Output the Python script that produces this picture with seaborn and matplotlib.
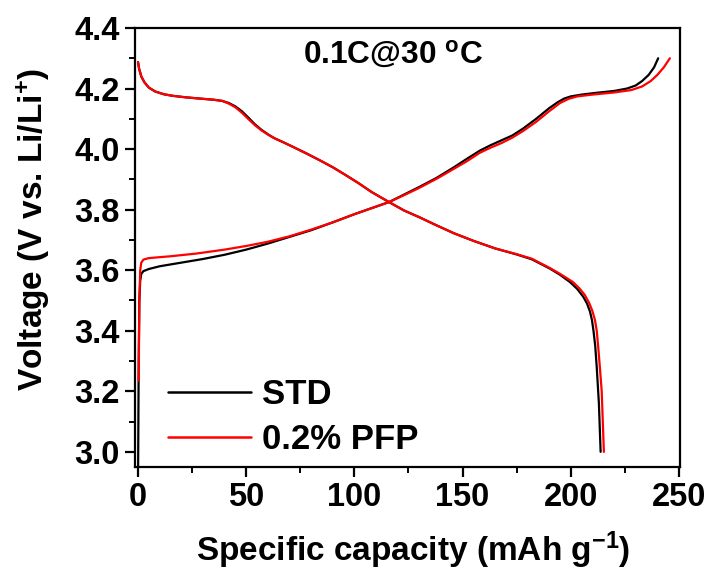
import numpy as np
import pandas as pd
import matplotlib
matplotlib.use("Agg")
import matplotlib.pyplot as plt
import seaborn as sns
from matplotlib.ticker import MultipleLocator, FormatStrFormatter

# ---- data ----
std_chg_x = [0, 0.3, 0.6, 1.0, 1.5, 2.5, 5, 10, 20, 30, 40, 50, 60, 70, 80, 90, 100, 108, 116, 123, 130, 138, 146, 152, 158,
             163, 168, 173, 178, 184, 190, 194, 197, 200, 205, 212, 220, 226, 230, 233, 236, 238.5, 240.4]
std_chg_y = [2.90, 3.30, 3.50, 3.565, 3.588, 3.597, 3.604, 3.613, 3.625, 3.637, 3.651, 3.668, 3.688, 3.71, 3.732, 3.758, 3.785, 3.805, 3.825, 3.85, 3.875, 3.905, 3.94, 3.968, 3.995,
             4.013, 4.029, 4.045, 4.068, 4.10, 4.135, 4.155, 4.167, 4.174, 4.18, 4.186, 4.192, 4.20, 4.21, 4.225, 4.245, 4.27, 4.30]

pfp_chg_x = [0.3, 0.6, 1.0, 1.5, 2.5, 5, 15, 27, 40, 50, 60, 70, 80, 90, 100, 108, 116, 123, 130, 138, 146, 152, 158,
             163, 168, 173, 178, 184, 190, 195, 199, 203, 210, 220, 228, 233, 237, 240, 243, 245.8]
pfp_chg_y = [3.235, 3.50, 3.60, 3.625, 3.635, 3.64, 3.646, 3.655, 3.668, 3.68, 3.694, 3.712, 3.734, 3.758, 3.785, 3.805, 3.825, 3.848, 3.872, 3.902, 3.935, 3.96, 3.988,
             4.005, 4.02, 4.038, 4.06, 4.09, 4.125, 4.152, 4.166, 4.174, 4.18, 4.187, 4.195, 4.207, 4.225, 4.245, 4.27, 4.30]

std_dis_x = [0, 0.5, 1.5, 3, 5, 8, 12, 16, 22, 30, 35, 39, 42, 45, 48, 51, 54, 57, 60, 63, 67, 72, 78, 84, 90, 96, 102, 108, 116,
             123, 130, 138, 146, 155, 165, 175, 182, 190.4, 195, 199.6, 203, 205.8, 207.5, 208.9, 209.8, 210.5, 211.3, 212, 213, 213.8]
std_dis_y = [4.287, 4.265, 4.24, 4.22, 4.203, 4.19, 4.181, 4.176, 4.171, 4.166, 4.163, 4.159, 4.152, 4.141, 4.125, 4.104, 4.082, 4.064, 4.049, 4.036, 4.023, 4.006, 3.985, 3.963, 3.94, 3.914, 3.887, 3.858, 3.825,
             3.797, 3.775, 3.748, 3.722, 3.697, 3.672, 3.652, 3.636, 3.605, 3.585, 3.561, 3.538, 3.512, 3.49, 3.463, 3.435, 3.40, 3.35, 3.28, 3.16, 3.0]

pfp_dis_x = [0, 0.5, 1.5, 3, 5, 8, 12, 16, 22, 30, 35, 39, 42, 45, 48, 51, 54, 57, 60, 63, 67, 72, 78, 84, 90, 96, 102, 108, 116,
             123, 130, 138, 146, 155, 165, 175, 182, 190.4, 195, 201, 204, 206.5, 208.5, 210, 211.2, 212, 212.7, 213.5, 214.3, 215.3]
pfp_dis_y = [4.287, 4.265, 4.24, 4.22, 4.203, 4.19, 4.181, 4.176, 4.171, 4.166, 4.163, 4.159, 4.15, 4.138, 4.12, 4.099, 4.079, 4.062, 4.048, 4.036, 4.023, 4.006, 3.985, 3.963, 3.94, 3.914, 3.887, 3.858, 3.825,
             3.797, 3.775, 3.748, 3.722, 3.697, 3.672, 3.653, 3.638, 3.607, 3.588, 3.561, 3.54, 3.518, 3.492, 3.465, 3.435, 3.40, 3.345, 3.275, 3.20, 3.0]

samples = ["STD", "0.2% PFP"]
colors = ["black", "red"]

rows = []
for name, step, xs, ys in [
    ("STD", "charge", std_chg_x, std_chg_y),
    ("STD", "discharge", std_dis_x, std_dis_y),
    ("0.2% PFP", "charge", pfp_chg_x, pfp_chg_y),
    ("0.2% PFP", "discharge", pfp_dis_x, pfp_dis_y),
]:
    for a, b in zip(xs, ys):
        rows.append({"cap": a, "volt": b, "sample": name, "step": step})
df = pd.DataFrame(rows)

# ---- style ----
sns.set_style("ticks")
plt.rcParams["font.family"] = ["Liberation Sans", "DejaVu Sans"]
plt.rcParams["font.weight"] = "bold"
plt.rcParams["text.color"] = "black"
plt.rcParams["axes.labelcolor"] = "black"
plt.rcParams["mathtext.fontset"] = "custom"
plt.rcParams["mathtext.rm"] = "Liberation Sans:bold"
plt.rcParams["mathtext.it"] = "Liberation Sans:bold"
plt.rcParams["mathtext.bf"] = "Liberation Sans:bold"
plt.rcParams["mathtext.default"] = "regular"

fig = plt.figure(figsize=(7.08, 5.70), dpi=100)
ax = fig.add_axes([0.1907, 0.1807, 0.9605 - 0.1907, 0.9509 - 0.1807])

sns.lineplot(data=df, x="cap", y="volt", hue="sample", units="step",
             estimator=None, sort=False, palette=dict(zip(samples, colors)),
             hue_order=samples, linewidth=1.6, ax=ax)

ax.set_xlim(-1.4, 250.5)
ax.set_ylim(2.95, 4.4)
ax.xaxis.set_major_locator(MultipleLocator(50))
ax.xaxis.set_minor_locator(MultipleLocator(25))
ax.yaxis.set_major_locator(MultipleLocator(0.2))
ax.yaxis.set_minor_locator(MultipleLocator(0.1))
ax.yaxis.set_major_formatter(FormatStrFormatter("%.1f"))

for s in ax.spines.values():
    s.set_visible(True)
    s.set_linewidth(1.6)
    s.set_color("black")
ax.tick_params(axis="both", which="major", direction="out", length=7, width=1.6,
               labelsize=23.5, pad=4, colors="black", top=False, right=False)
ax.tick_params(axis="both", which="minor", direction="out", length=4, width=1.4,
               colors="black", top=False, right=False)
for lab in ax.get_xticklabels() + ax.get_yticklabels():
    lab.set_fontweight("bold")

ax.set_xlabel("Specific capacity (mAh g$^{-1}$)", fontsize=24, fontweight="bold", color="black")
ax.set_ylabel("Voltage (V vs. Li/Li$^{+}$)", fontsize=24, fontweight="bold", color="black")
ax.xaxis.set_label_coords(0.51, -0.143)
ax.yaxis.set_label_coords(-0.152, 0.54)

ax.text(0.473, 0.9385, "0.1C@30 $^{o}$C", transform=ax.transAxes, ha="center", va="center",
        fontsize=22.8, fontweight="bold", color="black")

leg = ax.legend(loc="lower left", bbox_to_anchor=(0.06, 0.025), frameon=False,
                handlelength=2.4, handletextpad=0.32, labelspacing=0.35,
                borderpad=0.0, borderaxespad=0.0,
                prop={"weight": "bold", "size": 25})
for h in leg.get_lines():
    h.set_linewidth(1.8)
for t in leg.get_texts():
    t.set_color("black")

fig.savefig("out.png", dpi=100)
